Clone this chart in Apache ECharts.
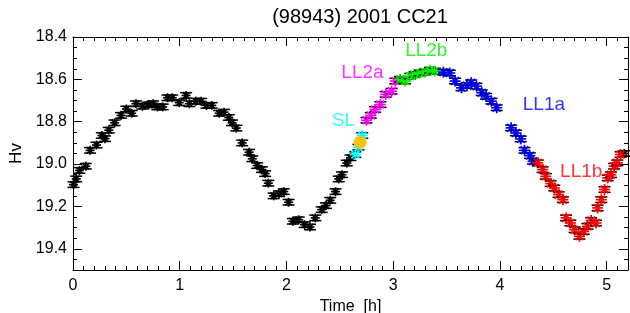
<!DOCTYPE html>
<html>
<head>
<meta charset="utf-8">
<script src="https://cdn.jsdelivr.net/npm/echarts@6/dist/echarts.min.js"></script>
<style>
  html, body { margin: 0; padding: 0; background: #fff; }
  #chart { width: 630px; height: 313px; }
</style>
</head>
<body>
<div id="chart"></div>
<script>
// Light curve points, time in hours and Hv magnitude, split by colour group
const blackT = [0.005, 0.03, 0.06, 0.12, 0.16, 0.22, 0.27, 0.30, 0.335, 0.39, 0.45, 0.50, 0.55, 0.59, 0.65, 0.71, 0.75, 0.79, 0.84, 0.885, 0.93, 0.995, 1.06, 1.09, 1.15, 1.20, 1.25, 1.30, 1.37, 1.415, 1.46, 1.49, 1.53, 1.585, 1.65, 1.68, 1.725, 1.77, 1.80, 1.83, 1.88, 1.93, 1.975, 2.02, 2.06, 2.115, 2.17, 2.22, 2.27, 2.33, 2.37, 2.41, 2.46, 2.49, 2.52, 2.565, 2.60, 5.165]
const blackH = [19.097, 19.07, 19.03, 19.01, 18.935, 18.91, 18.865, 18.88, 18.84, 18.805, 18.77, 18.74, 18.76, 18.715, 18.727, 18.72, 18.715, 18.73, 18.73, 18.687, 18.687, 18.71, 18.676, 18.715, 18.703, 18.703, 18.723, 18.723, 18.76, 18.755, 18.78, 18.805, 18.83, 18.90, 18.944, 18.975, 19.007, 19.026, 19.045, 19.09, 19.15, 19.14, 19.13, 19.18, 19.27, 19.263, 19.286, 19.297, 19.254, 19.215, 19.196, 19.171, 19.13, 19.07, 19.05, 18.995, 18.97, 18.95]
const slT = [2.645, 2.675, 2.71]
const slH = [18.955, 18.92, 18.865]
const ll2aT = [2.75, 2.79, 2.83, 2.88, 2.93, 2.985, 3.02]
const ll2aH = [18.793, 18.77, 18.742, 18.719, 18.671, 18.656, 18.608]
const ll2bT = [3.065, 3.11, 3.16, 3.20, 3.25, 3.30, 3.345, 3.39]
const ll2bH = [18.60, 18.608, 18.585, 18.577, 18.57, 18.566, 18.557, 18.561]
const ll1aT = [3.47, 3.53, 3.58, 3.64, 3.69, 3.73, 3.78, 3.83, 3.87, 3.92, 3.97, 4.105, 4.15, 4.195, 4.23, 4.28, 4.31]
const ll1aH = [18.566, 18.57, 18.608, 18.64, 18.629, 18.616, 18.632, 18.663, 18.68, 18.703, 18.734, 18.829, 18.853, 18.881, 18.935, 18.96, 18.987]
const ll1bT = [4.355, 4.40, 4.43, 4.475, 4.51, 4.55, 4.59, 4.62, 4.66, 4.70, 4.745, 4.785, 4.82, 4.855, 4.90, 4.915, 4.95, 4.98, 5.01, 5.04, 5.07, 5.10, 5.13]
const ll1bH = [18.994, 19.026, 19.058, 19.092, 19.113, 19.144, 19.168, 19.254, 19.278, 19.31, 19.341, 19.318, 19.294, 19.266, 19.278, 19.207, 19.168, 19.12, 19.065, 19.05, 19.01, 18.994, 18.955]
// highlighted point (yellow)
const dotT = [2.69]
const dotH = [18.897]
// annotation labels
const labelNames = ['SL', 'LL2a', 'LL2b', 'LL1a', 'LL1b']
const labelT = [2.535, 2.712, 3.31, 4.412, 4.762]
const labelH = [18.797, 18.57, 18.466, 18.719, 19.035]
const labelColors = ['#00ffff', '#ff00ff', '#00ee00', '#0000ff', '#ff0000']

const xTicks = [0, 1, 2, 3, 4, 5]
const yTicks = [18.4, 18.6, 18.8, 19.0, 19.2, 19.4]

const ERR = 0.013
const FONT = '"Liberation Sans", Arial, sans-serif'

const zip = (a, b) => a.map((v, i) => [v, b[i]])

function starSeries(name, t, h, color, r) {
  return {
    name,
    type: 'custom',
    xAxisIndex: 0,
    yAxisIndex: 0,
    data: zip(t, h),
    renderItem: (params, api) => {
      const p = api.coord([api.value(0), api.value(1)])
      const lo = api.coord([api.value(0), api.value(1) - ERR])
      const hi = api.coord([api.value(0), api.value(1) + ERR])
      const bar = { stroke: '#000', lineWidth: 1.5 }
      const st = { stroke: color, lineWidth: 1.7 }
      const d = r * 0.7071
      return {
        type: 'group',
        children: [
          { type: 'line', shape: { x1: p[0], y1: lo[1], x2: p[0], y2: hi[1] }, style: bar },
          { type: 'line', shape: { x1: p[0] - 6, y1: lo[1], x2: p[0] + 6, y2: lo[1] }, style: bar },
          { type: 'line', shape: { x1: p[0] - 6, y1: hi[1], x2: p[0] + 6, y2: hi[1] }, style: bar },
          { type: 'line', shape: { x1: p[0] - r, y1: p[1], x2: p[0] + r, y2: p[1] }, style: st },
          { type: 'line', shape: { x1: p[0], y1: p[1] - r, x2: p[0], y2: p[1] + r }, style: st },
          { type: 'line', shape: { x1: p[0] - d, y1: p[1] - d, x2: p[0] + d, y2: p[1] + d }, style: st },
          { type: 'line', shape: { x1: p[0] - d, y1: p[1] + d, x2: p[0] + d, y2: p[1] - d }, style: st }
        ]
      }
    },
    silent: true,
    animation: false
  }
}

const chart = echarts.init(document.getElementById('chart'))

const axisCommon = {
  axisLine: { show: true, onZero: false, lineStyle: { color: '#000', width: 1 } },
  axisTick: { show: true, inside: true, length: 9, lineStyle: { color: '#000' } },
  splitLine: { show: false }
}

chart.setOption({
  backgroundColor: '#fff',
  animation: false,
  textStyle: { fontFamily: FONT },
  title: {
    text: '(98943) 2001 CC21',
    left: 355,
    textAlign: 'center',
    top: 2,
    textStyle: { fontFamily: FONT, fontSize: 20, fontWeight: 'normal', color: '#000' }
  },
  grid: { left: 73, right: 2, top: 37, bottom: 43, outerBoundsMode: 'none', containLabel: false },
  xAxis: [
    {
      type: 'value', position: 'bottom', min: 0, max: 5.2, interval: 1,
      ...axisCommon,
      minorTick: { show: true, splitNumber: 10, length: 4, lineStyle: { color: '#000' } },
      axisLabel: {
        color: '#000', fontSize: 16, fontFamily: FONT, margin: 8,
        formatter: v => (xTicks.includes(v) ? String(v) : '')
      },
      name: 'Time  [h]', nameLocation: 'middle', nameGap: 26,
      nameTextStyle: { color: '#000', fontSize: 16, fontFamily: FONT }
    },
    {
      type: 'value', position: 'top', min: 0, max: 5.2, interval: 1,
      ...axisCommon,
      minorTick: { show: true, splitNumber: 10, length: 4, lineStyle: { color: '#000' } },
      axisLabel: { show: false }
    }
  ],
  yAxis: [
    {
      type: 'value', position: 'left', inverse: true, min: 18.4, max: 19.5, interval: 0.2,
      ...axisCommon,
      minorTick: { show: true, splitNumber: 4, length: 4, lineStyle: { color: '#000' } },
      axisLabel: {
        color: '#000', fontSize: 16, fontFamily: FONT, margin: 6,
        formatter: v => (yTicks.some(t => Math.abs(t - v) < 1e-6) ? v.toFixed(1) : '')
      },
      name: 'Hv', nameLocation: 'middle', nameRotate: 90, nameGap: 48,
      nameTextStyle: { color: '#000', fontSize: 17, fontFamily: FONT }
    },
    {
      type: 'value', position: 'right', inverse: true, min: 18.4, max: 19.5, interval: 0.2,
      ...axisCommon,
      minorTick: { show: true, splitNumber: 4, length: 4, lineStyle: { color: '#000' } },
      axisLabel: { show: false }
    }
  ],
  series: [
    starSeries('black', blackT, blackH, '#000', 4.5),
    starSeries('SL', slT, slH, '#00ffff', 5.5),
    starSeries('LL2a', ll2aT, ll2aH, '#ff00ff', 5.5),
    starSeries('LL2b', ll2bT, ll2bH, '#00ee00', 5.5),
    starSeries('LL1a', ll1aT, ll1aH, '#0000ff', 5.5),
    starSeries('LL1b', ll1bT, ll1bH, '#ff0000', 5.5),
    {
      name: 'dot', type: 'scatter', data: zip(dotT, dotH),
      symbol: 'circle', symbolSize: 13,
      itemStyle: { color: '#f9c20f', opacity: 1 },
      z: 5, silent: true
    },
    {
      name: 'labels', type: 'scatter',
      data: labelNames.map((n, i) => ({
        name: n, value: [labelT[i], labelH[i]],
        label: { color: labelColors[i] }
      })),
      symbolSize: 0,
      label: {
        show: true, position: 'inside', formatter: p => p.name,
        fontSize: 19, fontFamily: FONT
      },
      z: 6, silent: true
    }
  ]
})
</script>
</body>
</html>
